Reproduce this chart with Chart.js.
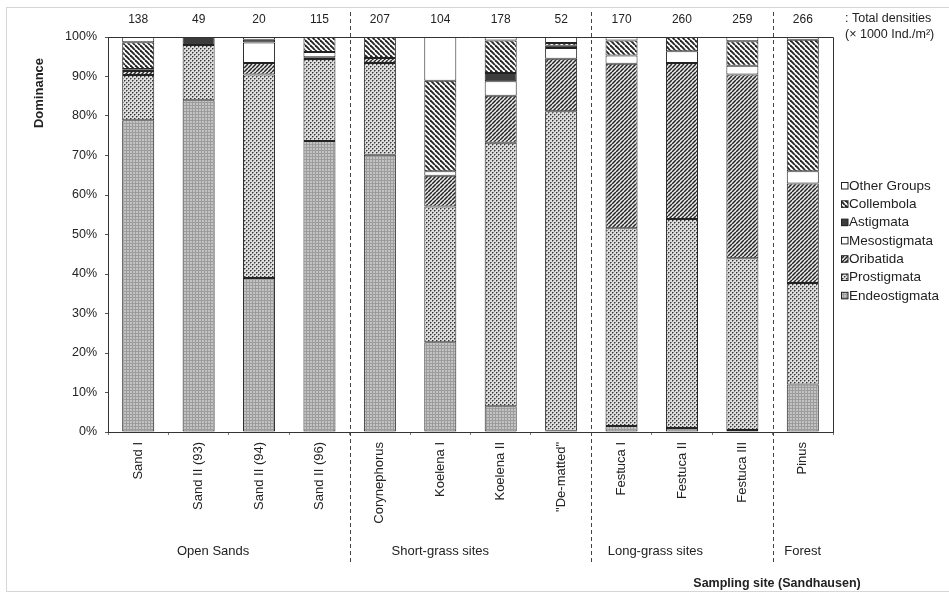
<!DOCTYPE html>
<html>
<head>
<meta charset="utf-8">
<title>Dominance of soil mesofauna groups (Sandhausen)</title>
<script src="https://cdn.jsdelivr.net/npm/chart.js@4.4.1/dist/chart.umd.min.js"></script>
<style>
  body { margin: 0; background: #fff; }
  canvas { display: block; }
</style>
</head>
<body>
<canvas id="chart" width="949" height="593"></canvas>
<script>
// Sampling sites
const sites = ['Sand I','Sand II (93)','Sand II (94)','Sand II (96)','Corynephorus','Koelena I','Koelena II','"De-matted"','Festuca I','Festuca II','Festuca III','Pinus'];
// Total densities (x 1000 Ind./m²) shown above the bars
const densities = [138,49,20,115,207,104,178,52,170,260,259,266];

// Dominance in % per site, stacked bottom to top
const endeostigmata = [78.9, 84.0, 39.0, 73.7, 70.2, 22.7,  6.5,  0.3,  1.5,  1.0,  0.5, 12.0];
const prostigmata   = [11.5, 14.0, 51.5, 20.7, 23.2, 34.4, 66.7, 80.9, 50.1, 52.9, 43.5, 25.7];
const oribatida     = [ 1.0,  0,    2.9,  0.5,  1.3,  7.8, 11.9, 13.3, 41.6, 39.5, 46.5, 25.2];
const mesostigmata  = [ 0.3,  0,    5.2,  1.3,  0,    1.1,  3.7,  2.7,  2.1,  3.0,  2.2,  3.1];
const astigmata     = [ 0.2,  2.0,  0.7,  0,    0,    0,    2.1,  0.6,  0,    0,    0,    0  ];
const collembola    = [ 6.8,  0,    0,    3.8,  5.3, 22.9,  8.2,  0.7,  3.8,  3.6,  6.2, 33.3];
const otherGroups   = [ 1.3,  0,    0.7,  0,    0,   11.1,  0.9,  1.5,  0.9,  0,    1.1,  0.7];

// Site groups, and the last site of each group that is followed by a dashed line
const siteGroups = ['Open Sands','Short-grass sites','Long-grass sites','Forest'];
const groupBreaks = [3, 7, 10];

const FONT = "'Liberation Sans', Arial, Helvetica, sans-serif";
Chart.defaults.font.family = FONT;
Chart.defaults.color = '#222';

// small fill patterns like the printed figure
function makePattern(size, draw){
  const c = document.createElement('canvas');
  c.width = c.height = size;
  const g = c.getContext('2d');
  draw(g, size);
  return g.createPattern(c, 'repeat');
}
function hatch(g, s, bg, fg, lw, forward){
  g.fillStyle = bg; g.fillRect(0,0,s,s);
  g.strokeStyle = fg; g.lineWidth = lw;
  for(let k=-1;k<=1;k++){
    g.beginPath();
    if(forward){ g.moveTo(k*s, s); g.lineTo(k*s+s, 0); }
    else { g.moveTo(k*s, 0); g.lineTo(k*s+s, s); }
    g.stroke();
  }
}
const fillEndeo = makePattern(3, (g,s)=>{
  g.fillStyle='#c3c3c3'; g.fillRect(0,0,s,s);
  g.fillStyle='#9c9c9c'; g.fillRect(0,0,s,1); g.fillRect(0,0,1,s);
});
const fillProsti = makePattern(4, (g,s)=>{
  g.fillStyle='#dedede'; g.fillRect(0,0,s,s);
  g.fillStyle='#333333'; g.fillRect(0,0,1,1); g.fillRect(2,2,1,1);
  g.fillStyle='#8c8c8c'; g.fillRect(1,0,1,1); g.fillRect(0,1,1,1); g.fillRect(3,2,1,1); g.fillRect(2,3,1,1);
});
const fillOriba = makePattern(4, (g,s)=>hatch(g, s, '#ececec', '#262626', 1.5, true));
const fillColl = makePattern(5, (g,s)=>hatch(g, s, '#ffffff', '#262626', 1.9, false));
const fillAstig = '#3c3c3c';

const series = [
  {label:'Endeostigmata', data:endeostigmata, fill:fillEndeo},
  {label:'Prostigmata',   data:prostigmata,   fill:fillProsti},
  {label:'Oribatida',     data:oribatida,     fill:fillOriba},
  {label:'Mesostigmata',  data:mesostigmata,  fill:'#ffffff'},
  {label:'Astigmata',     data:astigmata,     fill:fillAstig},
  {label:'Collembola',    data:collembola,    fill:fillColl},
  {label:'Other Groups',  data:otherGroups,   fill:'#ffffff'}
];

// Extra drawing: frame, dashed separators, densities, group labels, titles, legend
const decorations = {
  id: 'decorations',
  afterDraw(chart){
    const ctx = chart.ctx, a = chart.chartArea, x = chart.scales.x;
    ctx.save();

    // faint scan border
    ctx.strokeStyle = '#d6d6d6'; ctx.lineWidth = 1;
    ctx.strokeRect(6.5, 7.5, 960, 584);

    // plot frame top and right
    ctx.strokeStyle = '#333'; ctx.lineWidth = 1;
    ctx.beginPath();
    ctx.moveTo(a.left, a.top + 0.5); ctx.lineTo(a.right + 0.5, a.top + 0.5);
    ctx.lineTo(a.right + 0.5, a.bottom);
    ctx.stroke();

    // dashed separators between site groups
    ctx.setLineDash([4,3]);
    ctx.strokeStyle = '#444';
    groupBreaks.forEach(i=>{
      const px = Math.round((x.getPixelForValue(i) + x.getPixelForValue(i+1))/2) + 0.5;
      ctx.beginPath(); ctx.moveTo(px, 12); ctx.lineTo(px, 564); ctx.stroke();
    });
    ctx.setLineDash([]);

    // total densities
    ctx.fillStyle = '#222';
    ctx.font = '12px ' + FONT;
    ctx.textAlign = 'center'; ctx.textBaseline = 'middle';
    densities.forEach((d,i)=> ctx.fillText(String(d), x.getPixelForValue(i), 20));
    ctx.textAlign = 'left';
    ctx.font = '12.5px ' + FONT;
    ctx.fillText(': Total densities', 845, 19);
    ctx.fillText('(\u00d7 1000 Ind./m\u00b2)', 845, 35);

    // group labels under the site names
    const groupCenters = [1.24, 5.0, 8.56, 11.0];
    ctx.textAlign = 'center';
    ctx.font = '13px ' + FONT;
    siteGroups.forEach((g,i)=> ctx.fillText(g, x.getPixelForValue(groupCenters[i]), 551));

    // axis titles
    ctx.font = 'bold 12.5px ' + FONT;
    ctx.fillText('Sampling site (Sandhausen)', 777, 584);
    ctx.save();
    ctx.translate(39, 93); ctx.rotate(-Math.PI/2);
    ctx.font = 'bold 13px ' + FONT;
    ctx.fillText('Dominance', 0, 0);
    ctx.restore();

    // legend, top entry first
    ctx.textAlign = 'left';
    ctx.font = '13.5px ' + FONT;
    series.slice().reverse().forEach((s,i)=>{
      const y = 186 + i*18.3;
      ctx.fillStyle = s.fill;
      ctx.fillRect(841, y-3.5, 7, 7);
      ctx.strokeStyle = '#222';
      ctx.strokeRect(841.5, y-3.5, 6.5, 6.5);
      ctx.fillStyle = '#222';
      ctx.fillText(s.label, 849, y);
    });
    ctx.restore();
  }
};

new Chart(document.getElementById('chart'), {
  type: 'bar',
  data: {
    labels: sites,
    datasets: series.map(s=>({
      label: s.label,
      data: s.data,
      backgroundColor: s.fill,
      borderColor: '#222',
      borderWidth: 1,
      borderSkipped: false,
      categoryPercentage: 1,
      barPercentage: 0.53
    }))
  },
  options: {
    responsive: false,
    animation: false,
    layout: { padding: { top: 37, right: 116, left: 0, bottom: 0 } },
    plugins: { legend: { display: false }, tooltip: { enabled: false } },
    scales: {
      x: {
        stacked: true,
        afterFit: s => { s.height = 161; },
        grid: { display: true, drawOnChartArea: false, drawTicks: true, tickLength: 3, color: '#777' },
        border: { display: true, color: '#333', width: 1 },
        ticks: { autoSkip: false, minRotation: 90, maxRotation: 90, padding: 7, font: { size: 13 }, color: '#222' }
      },
      y: {
        stacked: true,
        min: 0, max: 100,
        afterFit: s => { s.width = 108; },
        grid: { display: true, drawOnChartArea: false, drawTicks: true, tickLength: 3, color: '#555' },
        border: { display: true, color: '#333', width: 1 },
        ticks: { stepSize: 10, padding: 8, font: { size: 12.5 }, color: '#222', callback: v => v + '%' }
      }
    }
  },
  plugins: [decorations]
});
</script>
</body>
</html>
